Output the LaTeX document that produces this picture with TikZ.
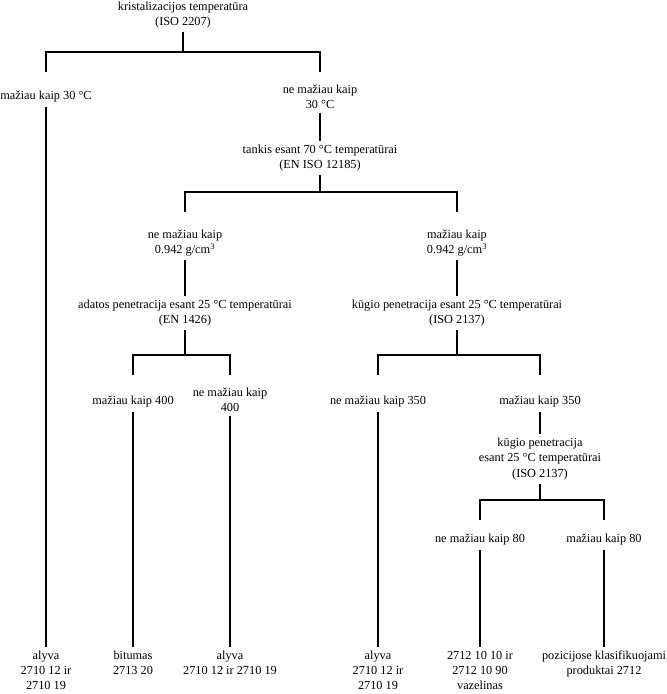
\documentclass[tikz,border=0pt]{standalone}
\usepackage{fontspec}
\setmainfont{Liberation Serif}
\usetikzlibrary{calc}
\tikzset{
  tnode/.style={inner sep=0pt, outer sep=4pt, align=center,
                font=\fontsize{12.3}{15.2}\selectfont},
  tleaf/.style={tnode, anchor=north},
  tedge/.style={black, line width=1.4pt},
}
\begin{document}
\begin{tikzpicture}[x=1pt, y=-1pt]
    \useasboundingbox (0,0) rectangle (667,694);
    % top split
    \node[tnode] (root) at (183,15) {kristalizacijos temperatūra\\(ISO 2207)};
    \coordinate (f1) at (183,52);
    \node[tnode] (lt30) at (46,97) {mažiau kaip 30 °C};
    \node[tnode] (ge30) at (320,97) {ne mažiau kaip\\30 °C};
    \node[tnode] (dens) at (320,158) {tankis esant 70 °C temperatūrai\\(EN ISO 12185)};
    \draw[tedge] (root) -- (f1);
    \draw[tedge] ($(f1 -| lt30)+(0,20)$) |- (f1) -| ($(f1 -| ge30)+(0,20)$);
    \draw[tedge] (ge30) -- (dens);
    % density
    \coordinate (f2) at (320,192);
    \node[tnode] (ge942) at (185,243) {ne mažiau kaip\\0.942 g/cm\textsuperscript{3}};
    \node[tnode] (lt942) at (457,243) {mažiau kaip\\0.942 g/cm\textsuperscript{3}};
    \draw[tedge] (dens) -- (f2);
    \draw[tedge] ($(f2 -| ge942)+(0,20)$) |- (f2) -| ($(f2 -| lt942)+(0,20)$);
    \node[tnode] (needle) at (185,313) {adatos penetracija esant 25 °C temperatūrai\\(EN 1426)};
    \node[tnode] (cone) at (457,313) {kūgio penetracija esant 25 °C temperatūrai\\(ISO 2137)};
    \draw[tedge] (ge942) -- (needle);
    \draw[tedge] (lt942) -- (cone);
    % penetration
    \coordinate (f3) at (185,355);
    \coordinate (f4) at (457,355);
    \node[tnode] (lt400) at (133,402) {mažiau kaip 400};
    \node[tnode] (ge400) at (230,400) {ne mažiau kaip\\400};
    \node[tnode] (ge350) at (378,402) {ne mažiau kaip 350};
    \node[tnode] (lt350) at (540,402) {mažiau kaip 350};
    \draw[tedge] (needle) -- (f3);
    \draw[tedge] ($(f3 -| lt400)+(0,20)$) |- (f3) -| ($(f3 -| ge400)+(0,20)$);
    \draw[tedge] (cone) -- (f4);
    \draw[tedge] ($(f4 -| ge350)+(0,20)$) |- (f4) -| ($(f4 -| lt350)+(0,20)$);
    \node[tnode] (cone2) at (540,459) {kūgio penetracija\\esant 25 °C temperatūrai\\(ISO 2137)};
    \draw[tedge] (lt350) -- (cone2);
    \coordinate (f5) at (540,500);
    \node[tnode] (ge80) at (480,540) {ne mažiau kaip 80};
    \node[tnode] (lt80) at (604,540) {mažiau kaip 80};
    \draw[tedge] (cone2) -- (f5);
    \draw[tedge] ($(f5 -| ge80)+(0,20)$) |- (f5) -| ($(f5 -| lt80)+(0,20)$);
    % leaves
    \node[tleaf] (oil1) at (46,647) {alyva\\2710 12 ir\\2710 19};
    \node[tleaf] (bitumen) at (133,647) {bitumas\\2713 20};
    \node[tleaf] (oil2) at (230,647) {alyva\\2710 12 ir 2710 19};
    \node[tleaf] (oil3) at (378,647) {alyva\\2710 12 ir\\2710 19};
    \node[tleaf] (vaseline) at (480,647) {2712 10 10 ir\\2712 10 90\\vazelinas};
    \node[tleaf] (other) at (604,647) {pozicijose klasifikuojami\\produktai 2712};
    \draw[tedge] (lt30) -- (oil1);
    \draw[tedge] (lt400) -- (bitumen);
    \draw[tedge] (ge400) -- (oil2);
    \draw[tedge] (ge350) -- (oil3);
    \draw[tedge] (ge80) -- (vaseline);
    \draw[tedge] (lt80) -- (other);
\end{tikzpicture}
\end{document}
